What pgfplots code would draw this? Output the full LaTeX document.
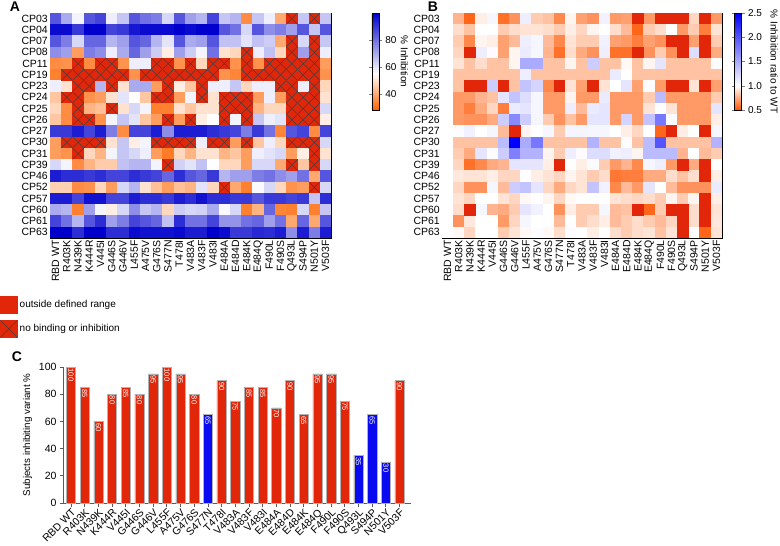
\documentclass[border=0pt]{standalone}
\usepackage{fontspec}
\setmainfont{Liberation Sans}
\usepackage{pgfplots}
\usepackage{pgfplotstable}
\pgfplotsset{compat=1.18}
\pgfkeys{/pgf/number format/assume math mode=true}
\newcommand{\fs}[1]{\fontsize{#1}{#1}\selectfont}
\definecolor{cred}{RGB}{226,38,10}
\definecolor{cblue}{RGB}{10,10,240}

\pgfdeclareplotmark{cell}{\pgfpathrectangle{\pgfpoint{-5.85pt}{-5.85pt}}{\pgfpoint{11.7pt}{11.7pt}}\pgfusepathqfill}
\pgfdeclareplotmark{xcell}{%
 \pgfpathrectangle{\pgfpoint{-5.75pt}{-5.75pt}}{\pgfpoint{11.5pt}{11.5pt}}\pgfusepathqfill
 \pgfpathmoveto{\pgfpoint{-5.625pt}{-5.625pt}}\pgfpathlineto{\pgfpoint{5.625pt}{5.625pt}}%
 \pgfpathmoveto{\pgfpoint{-5.625pt}{5.625pt}}\pgfpathlineto{\pgfpoint{5.625pt}{-5.625pt}}%
 \pgfusepathqstroke}

% Panel A: % inhibition; -1 = no binding or inhibition
\pgfplotstableread{
c0 c1 c2 c3 c4 c5 c6 c7 c8 c9 c10 c11 c12 c13 c14 c15 c16 c17 c18 c19 c20 c21 c22 c23 c24
85 70 57 85 88 58 65 85 80 78 62 85 72 68 88 65 68 35 65 58 40 -1 65 -1 65
98 98 90 100 100 88 90 96 98 98 98 100 98 100 100 85 80 62 85 75 78 72 85 65 85
85 78 62 82 82 68 72 85 82 68 60 85 70 72 85 66 66 60 66 64 40 -1 62 -1 65
75 72 38 78 75 58 70 82 72 64 52 72 64 57 80 50 48 -1 58 66 48 -1 72 -1 58
35 36 -1 35 -1 -1 36 58 58 -1 -1 36 -1 48 -1 -1 36 -1 36 -1 -1 -1 -1 -1 38
33 -1 -1 -1 -1 -1 -1 36 -1 -1 -1 -1 -1 -1 -1 36 34 -1 -1 -1 -1 -1 -1 -1 36
58 50 -1 -1 68 -1 50 70 70 38 -1 52 45 -1 58 58 65 48 58 58 -1 -1 58 -1 48
45 -1 -1 36 38 50 60 55 45 -1 -1 38 57 -1 50 -1 -1 -1 38 58 38 -1 -1 -1 50
48 35 -1 42 44 -1 50 62 57 33 33 50 45 50 50 -1 -1 -1 42 48 48 -1 -1 -1 62
45 35 -1 -1 36 57 65 60 45 38 -1 38 -1 52 55 -1 57 -1 65 58 60 -1 -1 -1 52
90 90 95 88 95 78 35 88 88 95 75 95 95 95 92 90 88 78 90 80 34 85 88 35 88
38 -1 -1 -1 -1 50 65 52 57 -1 -1 -1 -1 58 -1 -1 38 -1 45 58 48 -1 -1 -1 62
38 36 -1 48 42 57 65 62 58 38 32 48 42 50 50 42 45 38 58 60 62 38 52 -1 50
62 57 35 42 46 46 66 68 68 57 -1 63 60 66 55 48 48 38 62 62 40 -1 45 -1 62
95 92 92 90 92 88 88 92 90 88 82 92 85 82 90 68 72 72 78 80 75 72 80 40 85
47 47 35 36 48 38 62 68 50 44 38 44 42 60 48 -1 40 33 56 62 48 36 38 -1 62
95 95 88 97 97 88 88 95 92 92 90 95 92 97 92 92 90 90 85 90 90 88 90 65 92
70 68 33 72 57 52 62 75 65 68 48 64 62 63 70 56 62 33 42 82 34 33 62 33 65
88 80 68 85 92 72 78 88 85 82 66 92 80 80 88 74 74 80 82 72 80 40 82 40 85
100 100 92 100 100 92 92 98 97 97 97 98 95 95 100 98 90 90 93 92 95 75 95 78 95
}\dataA

% Panel B: inhibition ratio to WT; -1 = outside defined range
\pgfplotstableread{
c0 c1 c2 c3 c4 c5 c6 c7 c8 c9 c10 c11 c12 c13 c14 c15 c16 c17 c18 c19 c20 c21 c22 c23 c24
1.0 0.78 0.55 0.95 1.05 0.58 0.68 1.1 0.85 0.82 0.65 0.97 0.72 0.68 1.08 0.7 0.72 -1 0.7 -1 -1 -1 0.88 -1 0.7
1.0 0.9 0.82 1.0 1.0 0.85 0.9 0.92 0.92 0.9 0.85 0.95 0.88 0.97 1.0 0.9 0.8 0.55 0.85 0.9 1.0 0.7 0.85 0.62 0.92
1.0 0.85 0.65 0.97 0.95 0.72 0.8 1.1 1.05 0.8 0.65 0.92 0.85 0.85 1.08 0.72 0.7 0.62 0.72 0.68 -1 -1 0.72 -1 0.85
1.0 0.88 -1 1.1 1.02 0.72 0.97 1.12 1.05 0.78 0.58 0.9 0.75 0.68 1.1 0.58 0.58 -1 0.68 0.85 0.68 -1 1.2 -1 0.75
1.0 0.92 0.82 0.9 0.82 0.82 0.97 1.5 1.5 0.82 0.82 0.97 0.82 1.3 0.82 0.82 0.98 0.82 0.97 1.15 0.82 0.82 0.82 0.82 1.02
1.0 0.82 0.82 0.82 0.82 0.82 0.82 1.1 0.82 0.82 0.82 0.82 0.82 0.82 0.82 1.12 1.0 0.82 0.82 0.82 0.82 0.82 0.82 0.82 0.82
1.0 0.82 -1 -1 1.3 -1 0.82 1.35 1.25 0.65 -1 0.92 0.72 -1 0.92 1.0 1.15 0.72 1.02 0.7 -1 -1 0.92 -1 0.72
1.0 0.7 0.7 0.78 0.82 1.15 1.35 1.2 1.05 0.7 0.7 0.97 0.7 0.7 1.12 0.7 0.7 0.7 0.85 1.4 0.7 0.7 0.7 0.7 0.85
1.0 0.7 0.62 0.75 0.88 0.62 1.12 1.15 1.05 0.7 0.7 1.1 0.8 1.12 1.15 0.7 0.7 0.7 0.92 1.0 0.92 0.7 0.7 0.7 1.15
1.0 0.7 0.68 0.68 0.75 1.3 1.7 1.3 1.05 0.85 0.68 0.82 0.7 1.15 1.15 0.7 1.25 0.7 1.35 1.8 1.02 0.7 0.7 0.7 0.95
1.0 1.02 1.08 1.0 1.05 0.8 -1 0.97 1.0 1.05 0.85 1.06 1.06 1.05 1.05 1.0 0.95 0.88 1.0 0.55 -1 0.95 1.0 -1 1.05
1.0 0.82 0.82 0.82 0.82 1.4 2.5 1.5 1.8 0.82 0.82 0.82 0.82 1.45 0.82 0.82 1.02 0.82 1.4 2.0 0.82 0.82 0.82 0.82 1.45
1.0 0.85 0.75 1.15 1.02 1.3 1.75 1.45 1.45 0.97 0.85 1.1 1.02 1.2 1.2 1.08 1.1 0.97 1.4 1.4 1.4 0.78 1.0 0.8 0.85
1.0 0.88 0.58 0.65 0.75 0.78 1.15 1.15 1.15 0.95 -1 1.0 0.95 1.03 0.85 0.7 0.78 0.65 1.05 1.1 0.7 -1 0.75 -1 1.0
1.0 0.93 0.92 0.92 0.95 0.88 0.88 1.0 0.95 0.92 0.88 0.97 0.92 0.85 0.9 0.6 0.62 0.62 0.75 0.75 0.9 0.82 0.9 -1 0.95
1.0 0.88 0.68 0.68 1.05 0.8 1.3 1.35 1.15 0.88 0.75 0.88 0.92 1.35 1.08 0.65 0.8 0.7 1.15 1.0 0.8 0.68 0.68 0.68 1.12
1.0 0.92 0.88 1.0 1.0 0.92 0.88 0.98 1.0 0.97 0.88 0.98 1.0 1.0 1.0 0.92 0.9 0.88 0.9 0.85 0.97 0.85 0.97 -1 0.95
1.0 0.9 -1 1.05 0.78 0.75 0.85 1.15 1.08 1.0 0.68 0.95 0.85 0.85 1.05 0.8 0.82 -1 0.55 0.85 -1 -1 0.9 -1 0.92
1.0 0.68 0.93 1.0 1.0 0.7 0.88 1.05 1.0 1.0 0.8 1.0 0.85 0.9 0.95 0.8 0.85 0.9 0.85 0.8 0.88 -1 0.9 -1 0.93
1.0 0.98 0.88 1.0 1.0 0.85 0.92 0.98 1.02 0.98 0.9 1.02 1.0 0.95 1.0 0.9 0.85 0.9 0.92 0.82 0.92 -1 1.0 0.55 0.92
}\dataB

% Panel C
\pgfplotstableread{
x v
0 100
1 85
2 60
3 80
4 85
5 80
6 95
7 100
8 95
9 80
11 90
12 75
13 85
14 85
15 70
16 90
17 65
18 95
19 95
20 75
24 90
}\dataCred
\pgfplotstableread{
x v
10 65
21 35
22 65
23 30
}\dataCblue

\def\varnames{RBD WT,R403K,N439K,K444R,V445I,G446S,G446V,L455F,A475V,G476S,S477N,T478I,V483A,V483F,V483I,E484A,E484D,E484K,E484Q,F490L,F490S,Q493L,S494P,N501Y,V503F}
\def\cpnames{CP03,CP04,CP07,CP08,CP11,CP19,CP23,CP24,CP25,CP26,CP27,CP30,CP31,CP39,CP46,CP52,CP57,CP60,CP61,CP63}

\pgfplotsset{
 heat/.style={
  scale only axis, height=225pt,
  xmin=-0.5, xmax=24.5, ymin=-0.5, ymax=19.5, y dir=reverse,
  xtick={0,...,24}, ytick={0,...,19},
  xticklabel style={rotate=90, anchor=east, font=\fs{10.5}, inner sep=2pt},
  yticklabel style={font=\fs{10.5}, inner sep=2pt},
  major tick length=0pt,
  axis line style={black, line width=0.8pt},
  axis on top,
 },
 cbar/.style 2 args={
  colorbar,
  colorbar style={at={(parent axis.north east)}, anchor=north west, xshift=#1,
   scale only axis, width=7pt, height=97pt,
   yticklabel style={font=\fs{10}},
   ylabel style={at={(axis description cs:#2,0.5)}, anchor=south, rotate=180, font=\fs{10}, inner sep=0pt},
   tick align=outside, major tick length=3pt,
   axis line style={line width=0.5pt}},
 },
}

\begin{document}
\begin{tikzpicture}
\useasboundingbox (0,0) rectangle (780pt,-546pt);

% ---------------- Panel A ----------------
\begin{axis}[heat, cbar={32pt}{4.1},
 at={(50pt,-13pt)}, anchor=north west, width=281.25pt,
 xticklabels/.expanded=\varnames, yticklabels/.expanded=\cpnames,
 colormap={cmA}{rgb255(28)=(255,100,0); rgb255(55)=(255,255,255); rgb255(100)=(0,0,205)},
 point meta min=28, point meta max=100,
 colorbar style={ytick={40,60,80}, ylabel={\% Inhibition}},
 legend style={at={(-0.1778,-0.2578)}, anchor=north west, draw=none, fill=none,
   inner sep=0pt, row sep=6.5pt, font=\fs{10}, cells={anchor=west}},
 legend cell align=left,
]
\addlegendimage{legend image code/.code={\fill[cred] (0pt,-8.5pt) rectangle (17pt,8.5pt);}}
\addlegendentry{outside defined range}
\addlegendimage{legend image code/.code={\fill[cred] (0pt,-8.5pt) rectangle (17pt,8.5pt);
  \draw[black!75, line width=0.5pt] (0pt,-8.5pt)--(17pt,8.5pt) (0pt,8.5pt)--(17pt,-8.5pt);}}
\addlegendentry{no binding or inhibition}
\pgfplotsinvokeforeach{0,...,24}{
 \addplot[scatter, only marks, mark=cell, forget plot,
   point meta={max(\thisrow{c#1},28)}]
   table[x expr=#1, y expr=\coordindex] {\dataA};
}
\pgfplotsinvokeforeach{0,...,24}{
 \addplot[only marks, mark=xcell, forget plot,
   mark options={fill=cred, draw=black!75, line width=0.45pt},
   restrict y to domain=-1:20]
   table[x expr=#1, y expr={(\thisrow{c#1}<0) ? \coordindex : -100}] {\dataA};
}
\end{axis}

% ---------------- Panel B ----------------
\begin{axis}[heat, cbar={4pt}{5.1},
 at={(442pt,-13pt)}, anchor=north west, width=280pt,
 xticklabels/.expanded=\varnames, yticklabels/.expanded=\cpnames,
 colormap={cmB}{rgb255(5)=(255,85,0); rgb255(10)=(255,255,255); rgb255(25)=(0,0,255)},
 point meta min=0.5, point meta max=2.5,
 colorbar style={ytick={0.5,1,1.5,2,2.5},
   yticklabel style={/pgf/number format/.cd, fixed, fixed zerofill, precision=1},
   ylabel={\% Inhibition ratio to WT}},
]
\pgfplotsinvokeforeach{0,...,24}{
 \addplot[scatter, only marks, mark=cell, forget plot,
   point meta={max(\thisrow{c#1},0.5)}]
   table[x expr=#1, y expr=\coordindex] {\dataB};
}
\pgfplotsinvokeforeach{0,...,24}{
 \addplot[only marks, mark=cell, forget plot, mark options={fill=cred},
   restrict y to domain=-1:20]
   table[x expr=#1, y expr={(\thisrow{c#1}<0) ? \coordindex : -100}] {\dataB};
}
\end{axis}

% ---------------- Panel C ----------------
\begin{axis}[
 at={(63.5pt,-503pt)}, anchor=south west,
 scale only axis, width=347pt, height=136pt,
 xmin=-0.55, xmax=24.8, ymin=0, ymax=100,
 axis x line*=bottom, axis y line*=left,
 axis line style={line width=1pt, color=black!65},
 xtick={0,...,24}, xticklabels/.expanded=\varnames,
 xticklabel style={rotate=45, anchor=north east, font=\fs{10.5}, inner sep=1pt},
 ytick={0,20,...,100},
 yticklabel style={font=\fs{10.5}},
 ylabel={Subjects inhibiting variant \%}, ylabel style={font=\fs{9.8}},
 tick align=outside, major tick length=3.5pt,
 tick style={black!65, line width=0.8pt},
 every node near coord/.append style={rotate=-90, anchor=west, font=\fs{7.5}, text=white, inner sep=1.5pt},
]
\addplot[ybar, bar shift=0pt, bar width=0.68, fill=cred, draw=black!30, line width=0.5pt, nodes near coords]
 table[x=x, y=v] {\dataCred};
\addplot[ybar, bar shift=0pt, bar width=0.68, fill=cblue, draw=black!30, line width=0.5pt, nodes near coords]
 table[x=x, y=v] {\dataCblue};
\end{axis}

\node[font=\bfseries\fs{14}] at (15pt,-7pt) {A};
\node[font=\bfseries\fs{14}] at (433pt,-7pt) {B};
\node[font=\bfseries\fs{14}] at (17pt,-357pt) {C};
\end{tikzpicture}
\end{document}
